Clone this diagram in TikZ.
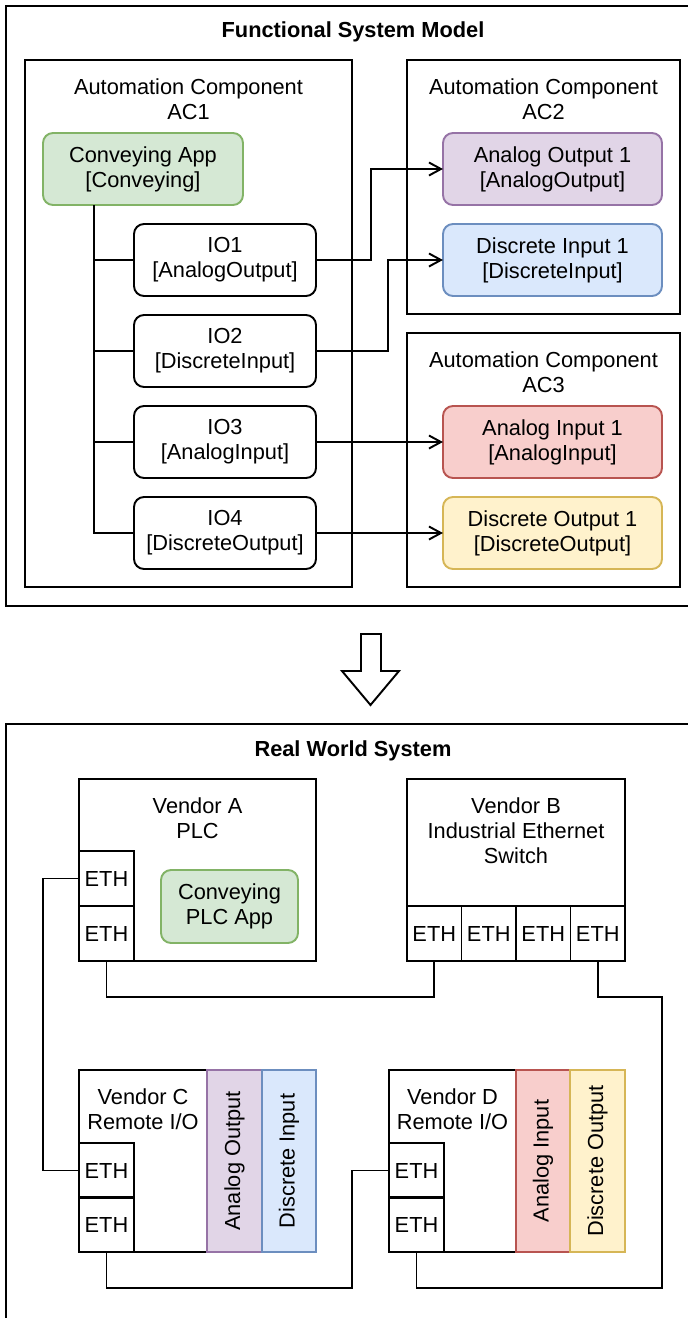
\documentclass[tikz,border=0pt]{standalone}
\usepackage{fontspec}
\setmainfont{Liberation Sans}
\usetikzlibrary{arrows.meta}
\def\PX{0.02cm}
\definecolor{gfill}{HTML}{D5E8D4}\definecolor{gline}{HTML}{82B366}
\definecolor{pfill}{HTML}{E1D5E7}\definecolor{pline}{HTML}{9673A6}
\definecolor{bfill}{HTML}{DAE8FC}\definecolor{bline}{HTML}{6C8EBF}
\definecolor{rfill}{HTML}{F8CECC}\definecolor{rline}{HTML}{B85450}
\definecolor{yfill}{HTML}{FFF2CC}\definecolor{yline}{HTML}{D6B656}
\begin{document}
\begin{tikzpicture}[x=0.02cm, y=-0.02cm,
  every node/.style={font=\fontsize{12.4}{14.2}\selectfont, inner sep=0pt, outer sep=0pt, align=center},
  wh/.style 2 args={minimum width=#1*\PX, minimum height=#2*\PX},
  sq/.style={draw, line width=1.1pt, anchor=north west, rectangle},
  rbox/.style={sq, rounded corners=0.2cm},
  ttl/.style={font=\fontsize{12.4}{14.2}\selectfont\bfseries},
  wire/.style={line width=1.1pt},
  arr/.style={wire, -{Straight Barb[length=0.24cm, width=0.26cm, line width=1.1pt]}},
  strip/.style={draw, line width=1.1pt, rotate=90, minimum width=182*\PX, minimum height=54.5*\PX, anchor=center},
  green/.style={fill=gfill, draw=gline},
  purple/.style={fill=pfill, draw=pline},
  blue/.style={fill=bfill, draw=bline},
  red/.style={fill=rfill, draw=rline},
  yellow/.style={fill=yfill, draw=yline}
]
\useasboundingbox (0,0) rectangle (688,1318);

% ---------- Functional System Model ----------
\draw[wire] (688,6) -| (6,606) -- (688,606);
\node[ttl] (ttl1) at (353,32) {Functional System Model};

\node[sq, wh={327}{527}] (ac1) at (25,60) {};
\node (ac1l) at (188.5,99.5) {Automation Component\\AC1};
\node[sq, wh={273}{254}] (ac2) at (407,60) {};
\node (ac2l) at (543.5,99.5) {Automation Component\\AC2};
\node[sq, wh={273}{254}] (ac3) at (407,333) {};
\node (ac3l) at (543.5,372.5) {Automation Component\\AC3};

\node[rbox, green, wh={200}{72}] (conv) at (43,133) {Conveying App\\{}[Conveying]};
\node[rbox, wh={182}{72}] (io1) at (134,224) {IO1\\{}[AnalogOutput]};
\node[rbox, wh={182}{72}] (io2) at (134,315) {IO2\\{}[DiscreteInput]};
\node[rbox, wh={182}{72}] (io3) at (134,406) {IO3\\{}[AnalogInput]};
\node[rbox, wh={182}{72}] (io4) at (134,497) {IO4\\{}[DiscreteOutput]};

\node[rbox, purple, wh={219}{72}] (ao1) at (443,133) {Analog Output 1\\{}[AnalogOutput]};
\node[rbox, blue, wh={219}{72}] (di1) at (443,224) {Discrete Input 1\\{}[DiscreteInput]};
\node[rbox, red, wh={219}{72}] (ai1) at (443,406) {Analog Input 1\\{}[AnalogInput]};
\node[rbox, yellow, wh={219}{72}] (do1) at (443,497) {Discrete Output 1\\{}[DiscreteOutput]};

\coordinate (busx) at (94,0);
\coordinate (j1) at (371,0);
\coordinate (j2) at (388,0);
\draw[wire] (conv.south -| busx) |- (io4.west);
\draw[wire] (io1.west -| busx) -- (io1.west);
\draw[wire] (io2.west -| busx) -- (io2.west);
\draw[wire] (io3.west -| busx) -- (io3.west);
\draw[arr] (io1.east) -- (io1.east -| j1) |- (ao1.west);
\draw[arr] (io2.east) -- (io2.east -| j2) |- (di1.west);
\draw[arr] (io3.east) -- (ai1.west);
\draw[arr] (io4.east) -- (do1.west);

% ---------- big hollow arrow ----------
\draw[wire, line join=miter] (361,634) -- (381,634) -- (381,671) -- (399,671) -- (370.5,705) -- (342,671) -- (361,671) -- cycle;

% ---------- Real World System ----------
\draw[wire] (688,724) -| (6,1318);
\node[ttl] (ttl2) at (353,751) {Real World System};

\node[sq, wh={237}{182}] (va) at (79,779) {};
\node (val) at (197.5,818.5) {Vendor A\\PLC};
\node[sq, wh={55}{55}] (pe1) at (79,851) {ETH};
\node[sq, wh={55}{55}] (pe2) at (79,906) {ETH};
\node[rbox, green, wh={137}{73}] (papp) at (161,870) {Conveying\\PLC App};

\node[sq, wh={218}{182}] (vb) at (407,779) {};
\node (vbl) at (516,831) {Vendor B\\Industrial Ethernet\\Switch};
\node[sq, wh={54.5}{55}] (se1) at (407,906) {ETH};
\node[sq, wh={54.5}{55}] (se2) at (461.5,906) {ETH};
\node[sq, wh={54.5}{55}] (se3) at (516,906) {ETH};
\node[sq, wh={54.5}{55}] (se4) at (570.5,906) {ETH};

\node[sq, wh={128}{182}] (vc) at (79,1070) {};
\node (vcl) at (143,1109.5) {Vendor C\\Remote I/O};
\node[sq, wh={55}{55}] (ce1) at (79,1143) {ETH};
\node[sq, wh={55}{55}] (ce2) at (79,1197) {ETH};
\node[strip, purple] (cao) at (234.5,1161) {Analog Output};
\node[strip, blue] (cdi) at (289,1161) {Discrete Input};

\node[sq, wh={127}{182}] (vd) at (389,1070) {};
\node (vdl) at (452.5,1109.5) {Vendor D\\Remote I/O};
\node[sq, wh={55}{55}] (de1) at (389,1143) {ETH};
\node[sq, wh={55}{55}] (de2) at (389,1197) {ETH};
\node[strip, red] (dai) at (543,1161) {Analog Input};
\node[strip, yellow] (ddo) at (597.5,1161) {Discrete Output};

\coordinate (l1) at (43,0);
\coordinate (r1) at (0,997);
\coordinate (r2) at (662,1288);
\coordinate (m1x) at (352,0);
\draw[wire] (pe1.west) -- (pe1.west -| l1) |- (ce1.west);
\draw[wire] (pe2.south) -- (pe2.south |- r1) -| (se1.south);
\draw[wire] (se4.south) -- (se4.south |- r1) -| (r2) -| (de2.south);
\draw[wire] (ce2.south) -- (ce2.south |- r2) -| (de1.west -| m1x) -- (de1.west);
\end{tikzpicture}
\end{document}
